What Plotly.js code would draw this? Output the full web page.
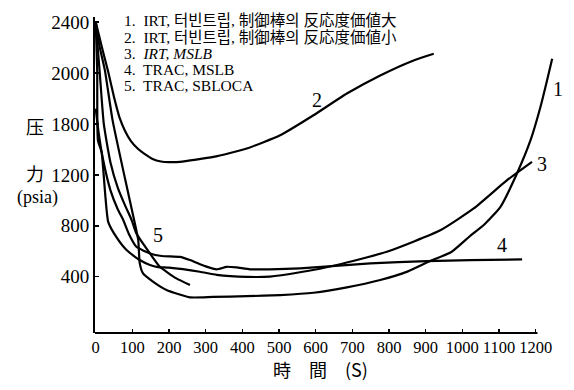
<!DOCTYPE html>
<html><head><meta charset="utf-8">
<script src="https://cdn.plot.ly/plotly-3.0.1.min.js"></script>
<style>html,body{margin:0;padding:0;background:#fff}#chart{width:574px;height:390px}</style>
</head><body><div id="chart"></div>
<script>
// Curve 1: IRT, turbine trip, large control-rod reactivity worth
const t1 = [0, 10, 25, 46, 80, 109, 116, 120, 129, 157, 193, 257, 320, 412, 503, 594, 685, 776, 850, 915, 970, 1022, 1060, 1104, 1149, 1186, 1213, 1231, 1245];
const p1 = [2400, 2215, 2021, 1628, 1169, 789, 687, 507, 426, 360, 296, 238, 241, 247, 256, 274, 316, 374, 440, 527, 594, 722, 810, 949, 1211, 1472, 1733, 1942, 2112];
// Curve 2: IRT, turbine trip, small control-rod reactivity worth
const t2 = [0, 17, 34, 50, 65, 80, 96, 115, 133, 155, 178, 200, 230, 321, 412, 503, 594, 685, 776, 867, 922];
const p2 = [2400, 2200, 2010, 1810, 1650, 1545, 1465, 1405, 1365, 1325, 1305, 1300, 1302, 1341, 1407, 1511, 1668, 1839, 1981, 2099, 2151];
// Curve 3: IRT, MSLB
const t3 = [0, 4, 6, 16, 34, 56, 84, 120, 148, 170, 200, 284, 330, 412, 475, 557, 658, 794, 940, 1031, 1122, 1190];
const p3 = [2400, 2021, 1472, 1380, 831, 713, 610, 531, 492, 476, 471, 439, 415, 399, 401, 435, 492, 596, 765, 936, 1158, 1302];
// Curve 4: TRAC, MSLB
const t4 = [0, 8, 20, 40, 60, 75, 90, 111, 148, 180, 230, 257, 300, 330, 357, 384, 421, 475, 557, 749, 903, 1022, 1163];
const p4 = [1720, 1530, 1320, 1080, 930, 845, 738, 635, 583, 563, 556, 531, 481, 458, 478, 473, 458, 458, 466, 505, 522, 530, 536];
// Curve 5: TRAC, SBLOCA
const t5 = [0, 11, 22, 40, 60, 80, 98, 111, 148, 175, 220, 257];
const p5 = [2400, 2000, 1600, 1300, 1100, 960, 845, 740, 583, 478, 387, 335];

const xTickVals = [0, 100, 200, 300, 400, 500, 600, 700, 800, 900, 1000, 1100, 1200];
const xTickText = ['0', '100', '200', '300', '400', '500', '600', '700', '800', '900', '1000', '1100', '1200'];
const yTickVals = [400, 800, 1200, 1600, 2000, 2400];
const yTickText = ['400', '800', '1200', '1800', '2000', '2400'];
const cjk = s => '<span style="font-size:15.5px">' + s + '</span>';
const legendLines = [
  '1.  IRT, ' + cjk('터빈트립') + ', ' + cjk('制御棒의') + ' ' + cjk('反応度価値大'),
  '2.  IRT, ' + cjk('터빈트립') + ', ' + cjk('制御棒의') + ' ' + cjk('反応度価値小'),
  '3.  <i>IRT, MSLB</i>',
  '4.  TRAC, MSLB',
  '5.  TRAC, SBLOCA'
];
const curveLabels = ['1', '2', '3', '4', '5'];
const xTitle = '時　間　(S)';
const yTitleParts = ['压', '力', '(psia)'];

const serif = 'Liberation Serif, Noto Sans CJK KR, serif';
const lineStyle = {color: '#000', width: 2.2, shape: 'spline', smoothing: 0.5};
const series = [[t1, p1], [t2, p2], [t3, p3], [t4, p4], [t5, p5]];
const traces = series.map(([x, y]) => ({x, y, mode: 'lines', type: 'scatter', line: lineStyle, hoverinfo: 'skip'}));

const ann = [];
const lab = (i, idx, xs, ys, txt) => ann.push({x: series[i][0][idx], y: series[i][1][idx], text: txt, showarrow: false,
  xshift: xs, yshift: ys, font: {family: serif, size: 20, color: '#000'}});
lab(0, t1.length - 1, 6, -30, curveLabels[0]);
lab(1, 16, 3, 15, curveLabels[1]);
lab(2, t3.length - 1, 10, -2, curveLabels[2]);
lab(3, t4.length - 1, -20, 14, curveLabels[3]);
lab(4, 8, 8, 18, curveLabels[4]);
const legY = [21, 37, 53, 69, 85];
legendLines.forEach((s, i) => ann.push({xref: 'paper', yref: 'paper', x: (122 - 95) / 459, y: (333 - legY[i]) / 316,
  xanchor: 'left', yanchor: 'middle', text: s, showarrow: false, font: {family: serif, size: 15.5, color: '#000'}}));
ann.push({xref: 'paper', yref: 'paper', x: (320 - 95) / 459, y: (333 - 369) / 316, xanchor: 'center', yanchor: 'middle',
  text: xTitle, showarrow: false, font: {family: 'Noto Sans CJK KR, sans-serif', size: 18, color: '#000'}});
ann.push({xref: 'paper', yref: 'paper', x: (35 - 95) / 459, y: (333 - 126) / 316, xanchor: 'center', yanchor: 'middle',
  text: yTitleParts[0], showarrow: false, font: {family: 'Noto Sans CJK SC, sans-serif', size: 18, color: '#000'}});
ann.push({xref: 'paper', yref: 'paper', x: (35 - 95) / 459, y: (333 - 173) / 316, xanchor: 'center', yanchor: 'middle',
  text: yTitleParts[1], showarrow: false, font: {family: 'Noto Sans CJK SC, sans-serif', size: 18, color: '#000'}});
ann.push({xref: 'paper', yref: 'paper', x: (37 - 95) / 459, y: (333 - 198) / 316, xanchor: 'center', yanchor: 'middle',
  text: yTitleParts[2], showarrow: false, font: {family: 'Liberation Serif, serif', size: 18, color: '#000'}});

const layout = {
  width: 574, height: 390,
  margin: {l: 95, r: 20, t: 17, b: 57},
  paper_bgcolor: '#fff', plot_bgcolor: '#fff',
  showlegend: false,
  xaxis: {range: [-2, 1250], showgrid: false, zeroline: false, showline: false,
    tickmode: 'array', tickvals: xTickVals, ticktext: xTickText, ticks: 'inside', ticklen: 4, tickwidth: 1.5, tickcolor: '#000',
    ticklabelstandoff: 2, tickfont: {family: 'Liberation Serif, serif', size: 16.5, color: '#000'}},
  yaxis: {range: [-42, 2440], showgrid: false, zeroline: false, showline: true, linecolor: '#000', linewidth: 2,
    tickmode: 'array', tickvals: yTickVals, ticktext: yTickText, ticks: 'inside', ticklen: 4, tickwidth: 1.5, tickcolor: '#000',
    tickfont: {family: 'Liberation Serif, serif', size: 19, color: '#000'}},
  shapes: [{type: 'line', xref: 'x', yref: 'paper', x0: -2, x1: 1205, y0: 0, y1: 0, line: {color: '#000', width: 2}}],
  annotations: ann
};
Plotly.newPlot('chart', traces, layout, {staticPlot: true, displayModeBar: false});
</script></body></html>
